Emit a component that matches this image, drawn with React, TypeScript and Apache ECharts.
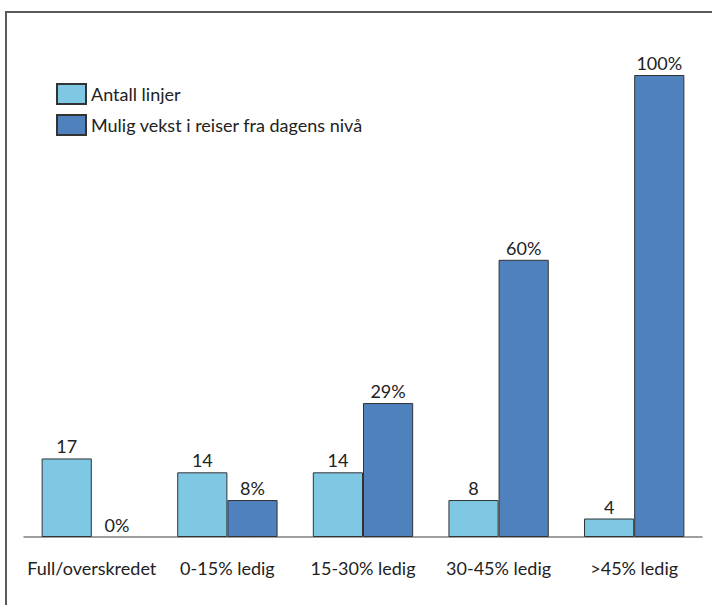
import React, { useEffect, useRef } from "react";
import * as echarts from "echarts";

const categories = ["Full/overskredet", "0-15% ledig", "15-30% ledig", "30-45% ledig", ">45% ledig"];
const antallLinjer = [17, 14, 14, 8, 4];
const muligVekst = [0, 8, 29, 60, 100];
const seriesNames = ["Antall linjer", "Mulig vekst i reiser fra dagens nivå"];

const FONT = "Lato, 'Open Sans', sans-serif";

export default function App() {
  const ref = useRef<HTMLDivElement>(null);

  useEffect(() => {
    document.body.style.margin = "0";
    const chart = echarts.init(ref.current!, null, { renderer: "svg" });
    chart.setOption({
      animation: false,
      backgroundColor: "#ffffff",
      textStyle: { fontFamily: FONT },
      graphic: [
        {
          type: "rect",
          shape: { x: 6, y: 12, width: 730, height: 620 },
          style: { fill: "none", stroke: "#5a5a5a", lineWidth: 2 },
          silent: true,
        },
      ],
      legend: {
        orient: "vertical",
        left: 56,
        top: 83,
        padding: 0,
        itemWidth: 29,
        itemHeight: 20,
        itemGap: 9,
        icon: "rect",
        textStyle: { fontFamily: FONT, fontSize: 18, lineHeight: 20, color: "#222" },
        data: seriesNames,
      },
      grid: { left: 24, right: 10, top: 75, bottom: 68 },
      xAxis: {
        type: "category",
        data: categories,
        axisTick: { show: false },
        axisLine: { lineStyle: { color: "#808080", width: 1.5 } },
        axisLabel: { color: "#222", fontSize: 18, fontFamily: FONT, margin: 22, interval: 0 },
      },
      yAxis: {
        type: "value",
        min: 0,
        max: 100,
        show: false,
        splitLine: { show: false },
      },
      series: [
        {
          name: seriesNames[0],
          type: "bar",
          data: antallLinjer,
          barGap: "0%",
          barCategoryGap: "26%",
          itemStyle: { color: "#7ec8e3", borderColor: "#333", borderWidth: 1 },
          label: {
            show: true,
            position: "top",
            distance: 3,
            color: "#222",
            fontSize: 18,
            fontFamily: FONT,
          },
        },
        {
          name: seriesNames[1],
          type: "bar",
          // a zero-height bar gets no outline
          data: muligVekst.map((v) => (v === 0 ? { value: v, itemStyle: { borderWidth: 0 } } : v)),
          barGap: "0%",
          barCategoryGap: "26%",
          itemStyle: { color: "#4f81bd", borderColor: "#333", borderWidth: 1 },
          label: {
            show: true,
            position: "top",
            distance: 3,
            color: "#222",
            fontSize: 18,
            fontFamily: FONT,
            formatter: (p: any) => `${p.value}%`,
          },
        },
      ],
    });
    return () => chart.dispose();
  }, []);

  return (
    <div
      ref={ref}
      style={{ position: "absolute", left: 0, top: 0, width: 712, height: 605 }}
    />
  );
}
